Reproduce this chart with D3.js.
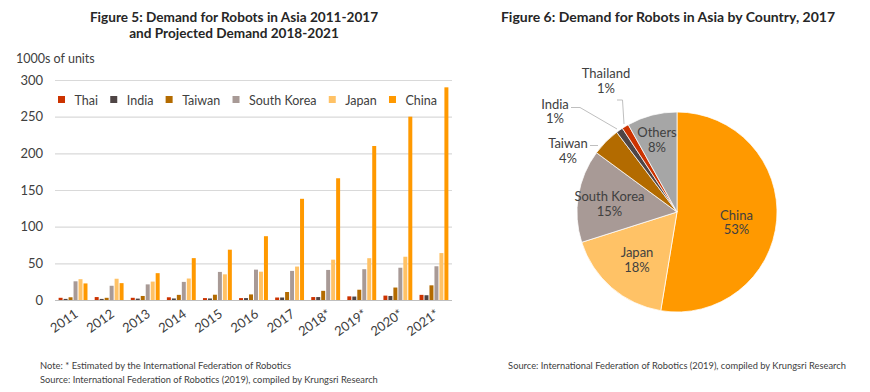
<!DOCTYPE html>
<html><head><meta charset="utf-8">
<script src="https://cdn.jsdelivr.net/npm/d3@7"></script>
<style>body{margin:0;background:#fff;} svg{display:block;font-family:Lato,"Open Sans",sans-serif;}</style>
</head><body>
<svg id="c" width="870" height="392"></svg>
<script>
const years = ["2011","2012","2013","2014","2015","2016","2017","2018*","2019*","2020*","2021*"];
const seriesNames = ["Thai","India","Taiwan","South Korea","Japan","China"];
const thai   = [3, 4, 3, 3.7, 2.6, 2.6, 3.4, 4, 5, 6, 7];
const india  = [1.5, 1.5, 1.9, 2.1, 2.1, 2.6, 3.4, 4, 4.7, 5.5, 6.5];
const taiwan = [3.7, 3, 5.5, 7, 7.2, 7.6, 10.9, 12.5, 14, 17, 20];
const korea  = [25.5, 19.4, 21.3, 24.7, 38.3, 41.4, 39.7, 41, 42, 44, 46];
const japan  = [28.4, 29, 25.1, 29.3, 35, 38.6, 45.6, 55, 57, 59, 64];
const china  = [22.6, 23, 36.6, 57.1, 68.6, 87, 138, 166, 210, 250, 290];
const yTicks = [0, 50, 100, 150, 200, 250, 300];
const barColors = ["#CC3300","#4F4545","#B36B00","#A89A96","#FFC266","#FF9900"];

const pieNames = ["China","Japan","South Korea","Taiwan","India","Thailand","Others"];
const pieValues = [52.6, 17.5, 15.0, 4.6, 1.1, 1.1, 8.1];
const pieLabels = ["53%","18%","15%","4%","1%","1%","8%"];
const pieColors = ["#FF9900","#FFC266","#A89A96","#B36B00","#4F4545","#CC3300","#A6A6A6"];

const svg = d3.select("#c");
const txt = "#404040";
const FF = "Lato,'Open Sans',sans-serif";

// ---------- Figure 5 ----------
const seriesData = [thai, india, taiwan, korea, japan, china];
const x0 = d3.scaleBand().domain(years).range([55, 452]).paddingInner(0.2).paddingOuter(0.1);
const x1 = d3.scaleBand().domain(seriesNames).range([0, x0.bandwidth()]).paddingInner(0.2);
const y = d3.scaleLinear().domain([0, 300]).range([300, 80]);

svg.append("text").attr("x", 234).attr("y", 22).attr("text-anchor","middle")
  .attr("font-weight","bold").attr("font-size",13.6).attr("fill","#262626")
  .text("Figure 5: Demand for Robots in Asia 2011-2017");
svg.append("text").attr("x", 234).attr("y", 38).attr("text-anchor","middle")
  .attr("font-weight","bold").attr("font-size",13.6).attr("fill","#262626")
  .text("and Projected Demand 2018-2021");
svg.append("text").attr("x", 16).attr("y", 63).attr("font-size",12.5).attr("fill",txt).text("1000s of units");

const yAxis = svg.append("g").attr("transform","translate(55,0)")
  .call(d3.axisLeft(y).tickValues(yTicks).tickSize(-397).tickPadding(12));
yAxis.select(".domain").remove();
yAxis.selectAll(".tick line").attr("stroke","#d9d9d9").attr("stroke-width",1.2);
yAxis.selectAll(".tick text").attr("font-size",13).attr("fill",txt).attr("font-family",FF);
yAxis.selectAll(".tick").filter(d => d === 0).select("line").attr("stroke","#bfbfbf");

const groups = svg.append("g").selectAll("g").data(years).join("g")
  .attr("transform", d => `translate(${x0(d)},0)`);
groups.selectAll("rect").data((d, i) => seriesNames.map((s, k) => ({s, v: seriesData[k][i], k})))
  .join("rect")
  .attr("x", d => x1(d.s)).attr("width", x1.bandwidth())
  .attr("y", d => y(d.v)).attr("height", d => y(0) - y(d.v))
  .attr("fill", d => barColors[d.k]);

const xAxis = svg.append("g").attr("transform","translate(0,300)")
  .call(d3.axisBottom(x0).tickSize(0).tickPadding(0));
xAxis.select(".domain").remove();
xAxis.selectAll(".tick text").attr("font-size",13).attr("fill",txt)
  .attr("font-family",FF)
  .attr("text-anchor","end").attr("dy",0)
  .attr("transform","translate(6,16) rotate(-35)");

// legend: evenly spaced between x=58 and x=437
const leg = svg.append("g");
const items = seriesNames.map((d, i) => {
  const g = leg.append("g");
  g.append("rect").attr("x",0).attr("y",-4).attr("width",7).attr("height",7).attr("fill",barColors[i]);
  const t = g.append("text").attr("x",16.5).attr("y",4.5).attr("font-size",12.5).attr("fill",txt).text(d);
  return {g, w: 16.5 + t.node().getComputedTextLength()};
});
const totalW = d3.sum(items, d => d.w);
const gap = (437 - 58 - totalW) / (items.length - 1);
let lx = 58;
items.forEach(it => { it.g.attr("transform", `translate(${lx},100)`); lx += it.w + gap; });

svg.append("text").attr("x",40).attr("y",369).attr("font-size",9.4).attr("fill","#404040")
  .text("Note: * Estimated by the International Federation of Robotics");
svg.append("text").attr("x",40).attr("y",383).attr("font-size",9.3).attr("fill","#404040")
  .text("Source: International Federation of Robotics (2019), compiled by Krungsri Research");

// ---------- Figure 6 ----------
svg.append("text").attr("x", 668).attr("y", 22).attr("text-anchor","middle")
  .attr("font-weight","bold").attr("font-size",14).attr("fill","#262626")
  .text("Figure 6: Demand for Robots in Asia by Country, 2017");

const cx = 677, cy = 212, R = 100;
const pie = d3.pie().sort(null).value(d => d)(pieValues);
const arc = d3.arc().innerRadius(0).outerRadius(R);
const pg = svg.append("g").attr("transform",`translate(${cx},${cy})`);
pg.selectAll("path").data(pie).join("path")
  .attr("d", arc).attr("fill", (d,i) => pieColors[i])
  .attr("stroke","#fff").attr("stroke-width",0.75);

// inside labels
const inside = {0:[59.5,7.5], 1:[-40,45], 2:[-67.5,-11], 6:[-20,-75]};
Object.entries(inside).forEach(([i, p]) => {
  const t = pg.append("text").attr("text-anchor","middle").attr("font-size",13).attr("fill","#404040");
  t.append("tspan").attr("x",p[0]).attr("y",p[1]).text(pieNames[i]);
  t.append("tspan").attr("x",p[0]).attr("y",p[1]+14.5).text(pieLabels[i]);
});
// outside labels with leaders
const outside = [
  {i:5, x:606, y:78, line:[[617,100],[622.5,100],[624,124]]},
  {i:4, x:555, y:108.5, line:[[571,107.5],[580,107.5],[617,129]]},
  {i:3, x:568, y:148, line:[[590,145.5],[598,145.5]]}
];
outside.forEach(o => {
  const t = svg.append("text").attr("text-anchor","middle").attr("font-size",13).attr("fill","#404040");
  t.append("tspan").attr("x",o.x).attr("y",o.y).text(pieNames[o.i]);
  t.append("tspan").attr("x",o.x).attr("y",o.y+14.5).text(pieLabels[o.i]);
  svg.append("path").attr("d", d3.line()(o.line)).attr("fill","none").attr("stroke","#bfbfbf").attr("stroke-width",1);
});

svg.append("text").attr("x",677).attr("y",369).attr("text-anchor","middle").attr("font-size",9.3).attr("fill","#404040")
  .text("Source: International Federation of Robotics (2019), compiled by Krungsri Research");
</script>
</body></html>
